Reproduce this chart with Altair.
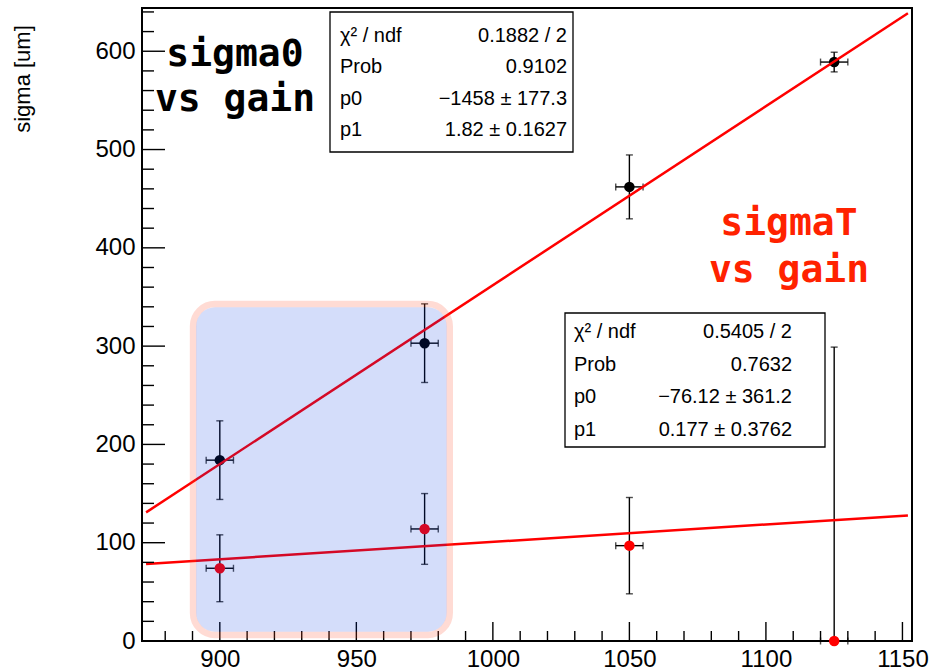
import altair as alt
import pandas as pd

# ---- data ----
gain = [900, 975, 1050, 1125]
gain_err = [5, 5, 5, 5]
sigma0 = [184, 303, 462, 589]
sigma0_err = [40, 40, 32.5, 10]
sigmaT = [74, 114, 97, 0]
sigmaT_err = [34, 36, 49, 299]

# fit parameters shown in the stats boxes
fit0_p0, fit0_p1 = -1458, 1.82
fitT_p0, fitT_p1 = -76.12, 0.177
fit_x = [873, 1152]

stats_names = ["χ² / ndf", "Prob", "p0", "p1"]
stats0_vals = ["0.1882 / 2", "0.9102", "−1458 ± 177.3", "1.82 ± 0.1627"]
statsT_vals = ["0.5405 / 2", "0.7632", "−76.12 ± 361.2", "0.177 ± 0.3762"]

x_major = [900, 950, 1000, 1050, 1100, 1150]
x_minor = [v for v in range(880, 1151, 10) if v % 50]
y_major = [0, 100, 200, 300, 400, 500, 600]
y_minor = [v for v in range(20, 641, 20) if v % 100]

# highlighted region (data coords): inner fill and outer ring centre line
box_in_x = [891.3, 983.1]
box_in_y = [9.5, 339.5]
box_ring_x = [890.2, 984.2]
box_ring_y = [6.1, 342.8]

x_domain = [871.5, 1153.5]
y_domain = [0, 644]

W, H = 770, 633

# ---- tables ----
rows = []
for g, ge, v, e in zip(gain, gain_err, sigma0, sigma0_err):
    rows.append(dict(x=g, y=v, lo=v - e, hi=v + e, xlo=g - ge, xhi=g + ge, c="#000000", s="sigma0"))
for g, ge, v, e in zip(gain, gain_err, sigmaT, sigmaT_err):
    rows.append(dict(x=g, y=v, lo=v - e, hi=v + e, xlo=g - ge, xhi=g + ge, c="#ff0000", s="sigmaT"))
pts = pd.DataFrame(rows)

fits = pd.DataFrame(
    [dict(x=x, y=fit0_p0 + fit0_p1 * x, s="f0") for x in fit_x]
    + [dict(x=x, y=fitT_p0 + fitT_p1 * x, s="fT") for x in fit_x]
)

xs = alt.Scale(domain=x_domain, nice=False, zero=False)
ys = alt.Scale(domain=y_domain, nice=False, zero=False)
x_axis = alt.Axis(values=x_major, ticks=False, domain=False, grid=False, labelFontSize=24,
                  labelFont="Liberation Sans", labelColor="black", labelPadding=6,
                  labelFlush=False, labelOverlap=False, title=None, format="d")
y_axis = alt.Axis(values=y_major, ticks=False, domain=False, grid=False, labelFontSize=24,
                  labelFont="Liberation Sans", labelColor="black", labelPadding=7,
                  labelFlush=False, labelOverlap=False, title=None, format="d")


def X(f):
    return alt.X(f, type="quantitative", scale=xs, axis=x_axis)


def Y(f):
    return alt.Y(f, type="quantitative", scale=ys, axis=y_axis)


base = alt.Chart(pts)

verr = base.mark_rule(color="black", strokeWidth=1.4, clip=True).encode(x=X("x"), y=Y("lo"), y2="hi")
herr = base.mark_rule(color="black", strokeWidth=1.4).encode(x=X("xlo"), x2="xhi", y=Y("y"))
cap_lo = base.mark_tick(orient="horizontal", size=7, thickness=1.4, color="black", clip=True).encode(x=X("x"), y=Y("lo"))
cap_hi = base.mark_tick(orient="horizontal", size=7, thickness=1.4, color="black").encode(x=X("x"), y=Y("hi"))
cap_l = base.mark_tick(orient="vertical", size=7, thickness=1.4, color="black").encode(x=X("xlo"), y=Y("y"))
cap_r = base.mark_tick(orient="vertical", size=7, thickness=1.4, color="black").encode(x=X("xhi"), y=Y("y"))
points = base.mark_circle(size=110, opacity=1).encode(x=X("x"), y=Y("y"), color=alt.Color("c:N", scale=None))

lines = alt.Chart(fits).mark_line(color="#ff0000", strokeWidth=2.5).encode(
    x=X("x"), y=Y("y"), detail="s:N")

# inward axis ticks
xmaj = alt.Chart(pd.DataFrame({"t": x_major})).mark_rule(color="black", strokeWidth=1.4).encode(
    x=X("t"), y=alt.value(H), y2=alt.value(H - 19))
xmin = alt.Chart(pd.DataFrame({"t": x_minor})).mark_rule(color="black", strokeWidth=1.4).encode(
    x=X("t"), y=alt.value(H), y2=alt.value(H - 10))
ymaj = alt.Chart(pd.DataFrame({"t": y_major})).mark_rule(color="black", strokeWidth=1.4).encode(
    y=Y("t"), x=alt.value(0), x2=alt.value(23))
ymin = alt.Chart(pd.DataFrame({"t": y_minor})).mark_rule(color="black", strokeWidth=1.4).encode(
    y=Y("t"), x=alt.value(0), x2=alt.value(12))

one = alt.Data(values=[{"k": 1}])

STATS_FS = 20


def stats_box(x0, x1, y0, y1, tx_left, tx_right, ty, lh, vals):
    rect = alt.Chart(one).mark_rect(fill="white", stroke="black", strokeWidth=1.3).encode(
        x=alt.value(x0), x2=alt.value(x1), y=alt.value(y0), y2=alt.value(y1))
    left = alt.Chart(one).mark_text(text=stats_names, align="left", baseline="alphabetic",
                                    font="Liberation Sans", fontSize=STATS_FS, lineHeight=lh,
                                    color="black").encode(x=alt.value(tx_left), y=alt.value(ty))
    right = alt.Chart(one).mark_text(text=vals, align="right", baseline="alphabetic",
                                     font="Liberation Sans", fontSize=STATS_FS, lineHeight=lh,
                                     color="black").encode(x=alt.value(tx_right), y=alt.value(ty))
    return [rect, left, right]


box0 = stats_box(188, 431, 4, 144, 198, 425, 34, 31.3, stats0_vals)
boxT = stats_box(423, 683, 305, 439, 432, 650, 330, 32.5, statsT_vals)

lab0 = alt.Chart(one).mark_text(text=["sigma0", "vs gain"], align="center", baseline="alphabetic",
                                font="DejaVu Sans Mono", fontWeight="bold", fontSize=38,
                                lineHeight=45, color="black").encode(x=alt.value(93), y=alt.value(58))
labT = alt.Chart(one).mark_text(text=["sigmaT", "vs gain"], align="center", baseline="alphabetic",
                                font="DejaVu Sans Mono", fontWeight="bold", fontSize=38,
                                lineHeight=47, color="#ff2200").encode(x=alt.value(647), y=alt.value(227))

ytitle = alt.Chart(one).mark_text(text="sigma [um]", angle=270, align="center", baseline="middle",
                                  font="Liberation Sans", fontSize=22, color="black").encode(
    x=alt.value(-119), y=alt.value(71))

box_df = pd.DataFrame({
    "ix0": [box_in_x[0]], "ix1": [box_in_x[1]], "iy0": [box_in_y[0]], "iy1": [box_in_y[1]],
    "rx0": [box_ring_x[0]], "rx1": [box_ring_x[1]], "ry0": [box_ring_y[0]], "ry1": [box_ring_y[1]],
})
overlay_fill = alt.Chart(box_df).mark_rect(
    fill="#0034e2", fillOpacity=0.17, cornerRadius=19
).encode(x=X("ix0"), x2="ix1", y=Y("iy0"), y2="iy1")
overlay_ring = alt.Chart(box_df).mark_rect(
    fill=None, filled=False, stroke="#ff4a2a", strokeOpacity=0.2, strokeWidth=6.5, cornerRadius=22
).encode(x=X("rx0"), x2="rx1", y=Y("ry0"), y2="ry1")

chart = alt.layer(
    verr, herr, cap_lo, cap_hi, cap_l, cap_r, points, lines,
    xmaj, xmin, ymaj, ymin,
    *box0, *boxT, lab0, labT, ytitle, overlay_fill, overlay_ring
).properties(
    width=W, height=H,
    autosize=alt.AutoSizeParams(type="none"),
    padding={"left": 142, "top": 8, "right": 21, "bottom": 31},
    background="white",
).configure_view(stroke="black", strokeWidth=2)

chart.save("out.html", embed_options={"renderer": "svg", "actions": False})
